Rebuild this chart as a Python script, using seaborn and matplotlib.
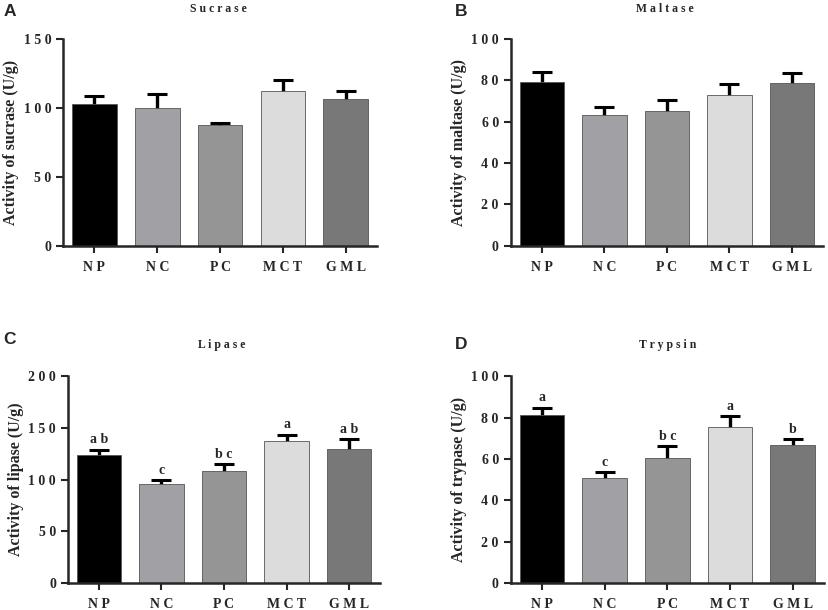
import numpy as np
import pandas as pd
import matplotlib
matplotlib.use('Agg')
import matplotlib.pyplot as plt
from matplotlib.ticker import FuncFormatter
import seaborn as sns

# groups
groups = ['NP', 'NC', 'PC', 'MCT', 'GML']
group_labels = ['N P', 'N C', 'P C', 'M C T', 'G M L']
colors = ['#000000', '#a1a1a5', '#959595', '#dcdcdc', '#787878']

# values (mean, error)
sucrase = [103.2, 100.3, 87.3, 112.1, 106.3]
sucrase_err = [5.8, 9.7, 1.7, 8.2, 5.8]

maltase = [79.3, 63.2, 65.1, 72.7, 78.8]
maltase_err = [4.6, 3.7, 5.5, 5.4, 4.8]

lipase = [123.3, 95.7, 108.2, 137.2, 129.5]
lipase_err = [5.5, 3.5, 6.5, 6.1, 9.6]
lipase_sig = ['a b', 'c', 'b c', 'a', 'a b']

trypsin = [81.3, 50.9, 60.4, 75.3, 66.6]
trypsin_err = [3.5, 2.6, 5.7, 5.3, 2.9]
trypsin_sig = ['a', 'c', 'b c', 'a', 'b']

sns.set_style('ticks')
plt.rcParams['font.family'] = ['Liberation Serif', 'DejaVu Serif']
plt.rcParams['font.weight'] = 'bold'

fig = plt.figure(figsize=(8.29, 6.10), dpi=100)

panels = [
    ('Activity of sucrase (U/g)', sucrase, sucrase_err, None, 150, 50,
     [0.076, 0.597, 0.379, 0.339]),
    ('Activity of maltase (U/g)', maltase, maltase_err, None, 100, 20,
     [0.616, 0.597, 0.377, 0.339]),
    ('Activity of lipase (U/g)', lipase, lipase_err, lipase_sig, 200, 50,
     [0.0817, 0.0443, 0.377, 0.339]),
    ('Activity of trypase (U/g)', trypsin, trypsin_err, trypsin_sig, 100, 20,
     [0.616, 0.0443, 0.378, 0.339]),
]

spaced = FuncFormatter(lambda v, p: ' '.join(str(int(v))))

for ylabel, vals, errs, sig, ymax, step, pos in panels:
    ax = fig.add_axes(pos)
    df = pd.DataFrame({'group': groups, 'value': vals})
    x = np.arange(len(groups))
    # error bars sit behind the bars so only the upper half shows
    ax.errorbar(x, vals, yerr=errs, fmt='none',
                ecolor='black', elinewidth=2.4, capsize=7.2, capthick=2.2, zorder=0.5)
    sns.barplot(data=df, x='group', y='value', hue='group', palette=colors,
                width=0.71, legend=False, ax=ax, errorbar=None,
                edgecolor='#555555', linewidth=0.6, zorder=2)
    if sig is not None:
        for xi, v, e, s in zip(x, vals, errs, sig):
            ax.annotate(s, (xi, v + e), xytext=(0, 2.5), textcoords='offset points',
                        ha='center', va='bottom', fontsize=10, fontweight='bold')
    ax.set_ylim(0, ymax)
    ax.set_xlim(-0.5, 4.5)
    ax.set_yticks(np.arange(0, ymax + 1, step))
    ax.yaxis.set_major_formatter(spaced)
    ax.set_xticks(x)
    ax.set_xticklabels(group_labels)
    ax.set_xlabel('')
    ax.set_ylabel(ylabel, fontsize=11.5, fontweight='bold', labelpad=3)
    ax.tick_params(axis='both', labelsize=10, width=1.5, length=5, direction='out')
    ax.tick_params(axis='x', pad=6)
    for sp in ['left', 'bottom']:
        ax.spines[sp].set_linewidth(1.8)
    sns.despine(ax=ax)
    for lab in ax.get_xticklabels() + ax.get_yticklabels():
        lab.set_fontweight('bold')

# titles and panel letters
fig.text(0.263, 0.986, 'S u c r a s e', ha='center', va='center', fontsize=8.5, fontweight='bold')
fig.text(0.802, 0.986, 'M a l t a s e', ha='center', va='center', fontsize=8.5, fontweight='bold')
fig.text(0.268, 0.434, 'L i p a s e', ha='center', va='center', fontsize=8.5, fontweight='bold')
fig.text(0.806, 0.434, 'T r y p s i n', ha='center', va='center', fontsize=8.5, fontweight='bold')

for lx, ly, l in [(0.004, 0.993, 'A'), (0.549, 0.993, 'B'), (0.004, 0.456, 'C'), (0.549, 0.447, 'D')]:
    fig.text(lx, ly, l, ha='left', va='top', fontsize=12.5, fontweight='bold',
             family=['Liberation Sans', 'DejaVu Sans'])

fig.savefig('out.png', dpi=100)
